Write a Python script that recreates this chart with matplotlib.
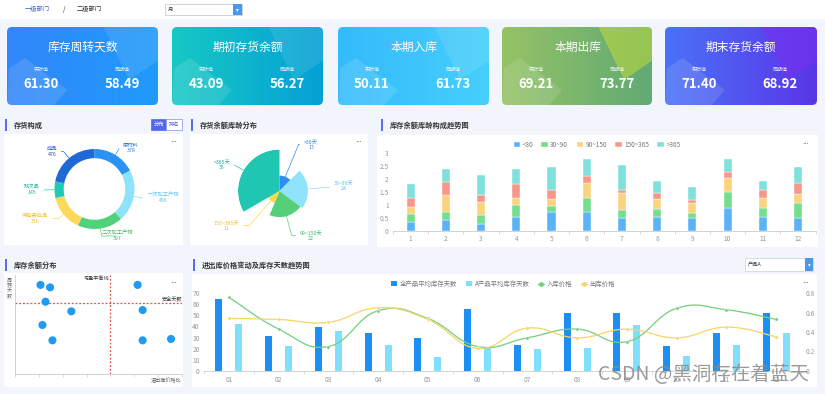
import numpy as np
import matplotlib
matplotlib.use('Agg')
import matplotlib.pyplot as plt
from matplotlib.patches import FancyBboxPatch, Rectangle, Polygon, PathPatch
from matplotlib.path import Path
from matplotlib.lines import Line2D
from matplotlib.colors import LinearSegmentedColormap

plt.rcParams['font.family'] = ['Noto Sans CJK SC', 'DejaVu Sans']

W, H = 825, 394

# ---------------- data ----------------
card_titles = ['库存周转天数', '期初存货余额', '本期入库', '本期出库', '期末存货余额']
card_actual = ['61.30', '43.09', '50.11', '69.21', '71.40']
card_prior = ['58.49', '56.27', '61.73', '73.77', '68.92']

mix_labels = ['原材料', '一次加工产物', '二次加工产物', '待包装成品', '残次品', '成品']
mix_values = [378, 456, 397, 316, 145, 476]

age_labels = ['<30天', '30~90天', '90~150天', '150~365天', '>365天']
age_values = [13, 24, 22, 11, 35]

months = list(range(1, 13))
trend_names = ['<30', '30~90', '90~150', '150~365', '>365']
trend_lt30 = [0.32, 0.41, 0.25, 0.54, 0.74, 0.74, 0.48, 0.54, 0.48, 0.87, 0.54, 0.50]
trend_30_90 = [0.34, 0.33, 0.35, 0.46, 0.23, 0.54, 0.32, 0.31, 0.22, 0.64, 0.33, 0.56]
trend_90_150 = [0.26, 0.64, 0.53, 0.27, 0.25, 0.57, 0.66, 0.38, 0.37, 0.52, 0.40, 0.35]
trend_150_365 = [0.33, 0.50, 0.25, 0.53, 0.36, 0.26, 0.12, 0.24, 0.13, 0.26, 0.32, 0.45]
trend_gt365 = [0.57, 0.50, 0.78, 0.58, 0.87, 0.67, 0.96, 0.47, 0.48, 0.48, 0.35, 0.59]

scatter_x = [1.07, 1.47, 1.28, 2.36, 1.15, 1.57, 5.14, 5.35, 5.35, 6.54]
scatter_y = [90, 87.5, 73, 63.3, 49.5, 34, 90, 64.6, 34, 35.4]
balance_line = 4
safe_days = 71.4

periods = ['01', '02', '03', '04', '05', '06', '07', '08', '09', '10', '11', '12']
all_days = [65, 31.5, 39.5, 34.5, 29.5, 55.5, 23.2, 52.5, 52.5, 22.3, 34.4, 52.5]
a_days = [42.2, 22.3, 35.6, 23.5, 12.7, 20.5, 19.9, 20.5, 41.6, 13.3, 23.5, 34.4]
in_price = [0.76, 0.43, 0.25, 0.62, 0.54, 0.25, 0.34, 0.43, 0.30, 0.645, 0.63, 0.53]
out_price = [0.54, 0.53, 0.50, 0.65, 0.53, 0.23, 0.44, 0.34, 0.43, 0.34, 0.45, 0.35]

# ---------------- figure ----------------
fig = plt.figure(figsize=(W / 100, H / 100), dpi=100, facecolor='#f2f6fc')
bg = fig.add_axes([0, 0, 1, 1])
bg.set_xlim(0, W)
bg.set_ylim(H, 0)
bg.axis('off')


def px_axes(x0, y0, x1, y1, **kw):
    ax = fig.add_axes([x0 / W, 1 - y1 / H, (x1 - x0) / W, (y1 - y0) / H], **kw)
    ax.set_facecolor('none')
    return ax


def smooth_path(xs, ys, t=0.22):
    xs = np.asarray(xs, float)
    ys = np.asarray(ys, float)
    n = len(xs)
    verts = [(xs[0], ys[0])]
    codes = [Path.MOVETO]
    for i in range(n - 1):
        a = max(i - 1, 0)
        b = min(i + 2, n - 1)
        c1 = (xs[i] + (xs[i + 1] - xs[a]) * t, ys[i] + (ys[i + 1] - ys[a]) * t)
        c2 = (xs[i + 1] - (xs[b] - xs[i]) * t, ys[i + 1] - (ys[b] - ys[i]) * t)
        verts += [c1, c2, (xs[i + 1], ys[i + 1])]
        codes += [Path.CURVE4] * 3
    return Path(verts, codes)


GRAY = '#999999'
TITLE_BAR = '#5b6cf2'

# top bar
bg.add_patch(Rectangle((0, 0), W, 19, fc='white', ec='none'))
bg.text(37, 9.5, '一级部门', fontsize=4.5, color='#3a62c4', ha='center', va='center')
bg.text(64, 9.5, '/', fontsize=4.5, color='#333', ha='center', va='center')
bg.text(89, 9.5, '二级部门', fontsize=4.5, color='#222', ha='center', va='center')
bg.add_patch(Rectangle((165, 4), 77, 11, fc='white', ec='#b8c4d8', lw=0.5))
bg.add_patch(Rectangle((233, 4), 9, 11, fc='#4a9ae8', ec='none'))
bg.text(237.5, 9.5, '▾', fontsize=4, color='white', ha='center', va='center', family='DejaVu Sans')
bg.text(168, 9.5, '月', fontsize=3.8, color='#333', va='center')

# ---------------- cards ----------------
card_boxes = [(7, 158), (172, 323), (338, 489), (502, 652), (665, 817)]
card_colors = [('#3286f9', '#1f9bfb'), ('#16c8c4', '#05a0d6'), ('#34bbfc', '#46cffb'),
               ('#96c266', '#60aa74'), ('#4a72f8', '#5a36e6')]
card_accent = ['white', 'white', 'white', '#c2dc3c', '#7a30f2']
cy0, cy1 = 27, 105
for i, (x0, x1) in enumerate(card_boxes):
    cmap = LinearSegmentedColormap.from_list('card%d' % i, card_colors[i])
    clip = FancyBboxPatch((x0, cy0), x1 - x0, cy1 - cy0,
                          boxstyle='round,pad=0,rounding_size=5', fc='none', ec='none')
    bg.add_patch(clip)
    grad = np.linspace(0, 1, 128)[None, :]
    im = bg.imshow(grad, cmap=cmap, extent=(x0, x1, cy1, cy0), aspect='auto', zorder=1)
    im.set_clip_path(clip)
    p1 = Polygon([(x0 + 2, 68), (x0 + 18, 58), (x0 + 60, 90), (x0 + 46, 106), (x0, 106)],
                 fc='white', alpha=0.12, ec='none', zorder=2)
    bg.add_patch(p1)
    p1.set_clip_path(clip)
    acc_alpha = 0.1 if card_accent[i] == 'white' else 0.55
    p2 = Polygon([(x0 + 96, 26), (x1 + 1, 26), (x1 + 1, 60), (x0 + 122, 80)],
                 fc=card_accent[i], alpha=acc_alpha, ec='none', zorder=2)
    bg.add_patch(p2)
    p2.set_clip_path(clip)
    cx = x0 + 76
    bg.text(cx, 47, card_titles[i], fontsize=8.5, color='white', ha='center', va='center', zorder=3)
    bg.text(x0 + 34, 69.5, '实际值', fontsize=3.6, color='white', alpha=0.85, ha='center', va='center', zorder=3)
    bg.text(x0 + 115, 69.5, '同期值', fontsize=3.6, color='white', alpha=0.85, ha='center', va='center', zorder=3)
    bg.text(x0 + 34, 84, card_actual[i], fontsize=9.5, fontweight='bold', color='white',
            ha='center', va='center', zorder=3)
    bg.text(x0 + 115, 84, card_prior[i], fontsize=9.5, fontweight='bold', color='white',
            ha='center', va='center', zorder=3)

# ---------------- panels ----------------
panels = [(4, 134, 183, 245), (190, 134, 368, 245), (377, 135, 818, 247),
          (4, 273, 183, 387), (192, 274, 817, 387)]
for (x0, y0, x1, y1) in panels:
    bg.add_patch(Rectangle((x0, y0), x1 - x0, y1 - y0, fc='white', ec='none'))

titles = [(5, 125, '存货构成'), (191, 125, '存货余额库龄分布'), (381, 125, '库存余额库龄构成趋势图'),
          (5, 265, '库存余额分布'), (193, 265, '进出库价格变动及库存天数趋势图')]
for (x, y, t) in titles:
    bg.add_patch(Rectangle((x, y - 6), 2, 12, fc=TITLE_BAR, ec='none'))
    bg.text(x + 9, y, t, fontsize=5.2, fontweight='bold', color='#333', va='center')

for (x, y) in [(174, 142), (359, 142), (806, 144), (174, 283), (806, 283)]:
    bg.text(x, y, '···', fontsize=5, color='#555', ha='center', va='center', family='DejaVu Sans')

# toggle buttons
bg.add_patch(Rectangle((151, 119), 15, 11, fc='#5566ee', ec='#5566ee', lw=0.5))
bg.add_patch(Rectangle((166, 119), 15.5, 11, fc='white', ec='#8090e8', lw=0.5))
bg.text(158.5, 124.5, '分布', fontsize=3.8, color='white', ha='center', va='center')
bg.text(173.7, 124.5, '排名', fontsize=3.8, color='#4455dd', ha='center', va='center')

# product dropdown
bg.add_patch(Rectangle((745, 258), 68, 13, fc='white', ec='#c8d0e0', lw=0.5))
bg.add_patch(Rectangle((805, 258), 8, 13, fc='#4a9ae8', ec='none'))
bg.text(809, 264.5, '▾', fontsize=4, color='white', ha='center', va='center', family='DejaVu Sans')
bg.text(748, 264.5, '产品A', fontsize=3.8, color='#333', va='center')

# ---------------- donut ----------------
mix_colors = ['#2a92f2', '#8ee2fb', '#4fd27a', '#fcd95a', '#22c9b4', '#1f68d8']
mix_text = ['#2a7ae0', '#5cc2ee', '#3cb866', '#efc02e', '#1fb3a0', '#2a58c4']
axp = px_axes(54.5, 149, 134.5, 229)
axp.pie(mix_values, colors=mix_colors, startangle=90, counterclock=False, radius=1,
        wedgeprops=dict(width=0.23, edgecolor='none'))
axp.set_xlim(-1, 1)
axp.set_ylim(-1, 1)
mix_pos = [(131, 148), (163, 198), (117, 236), (35, 218.5), (32, 190), (52, 151.5)]
total = float(sum(mix_values))
cum = 0.0
for i, v in enumerate(mix_values):
    mid = 90 - 360 * (cum + v / 2) / total
    cum += v
    r = np.radians(mid)
    bg.annotate('%s\n%d' % (mix_labels[i], v), xy=(np.cos(r) * 1.01, np.sin(r) * 1.01),
                xycoords=axp.transData, xytext=mix_pos[i], textcoords=bg.transData,
                fontsize=3.8, color=mix_text[i], ha='center', va='center', linespacing=1.15,
                arrowprops=dict(arrowstyle='-', color=mix_colors[i], lw=0.5, shrinkA=1, shrinkB=0,
                                connectionstyle='angle,angleA=0,angleB=%.1f,rad=0' % mid))

# ---------------- rose ----------------
age_colors = ['#2b8ef2', '#8fe3fb', '#55d078', '#fbd84e', '#1fc6b2']
age_text = ['#3a86e6', '#5cc0ea', '#3cb866', '#efc02e', '#1fb3a0']
axr = px_axes(238, 149.5, 321, 232.5, projection='polar')
axr.set_theta_zero_location('N')
axr.set_theta_direction(-1)
tot = float(sum(age_values))
widths = [2 * np.pi * v / tot for v in age_values]
starts = np.concatenate([[0], np.cumsum(widths)[:-1]])
axr.bar(starts, age_values, width=widths, bottom=0, align='edge', color=age_colors, edgecolor='none')
axr.set_ylim(0, max(age_values))
axr.axis('off')
age_pos = [(311, 144.5), (344, 186), (311, 235.5), (226.5, 225.5), (222, 165)]
for i, v in enumerate(age_values):
    th = starts[i] + widths[i] / 2
    ang = 90 - np.degrees(th)
    bg.annotate('%s\n%d' % (age_labels[i], v), xy=(th, v * 1.0), xycoords=axr.transData,
                xytext=age_pos[i], textcoords=bg.transData, fontsize=3.8, color=age_text[i],
                ha='center', va='center', linespacing=1.15,
                arrowprops=dict(arrowstyle='-', color=age_colors[i], lw=0.5, shrinkA=1, shrinkB=0,
                                connectionstyle='angle,angleA=0,angleB=%.1f,rad=0' % ang))

# ---------------- stacked bars ----------------
trend_series = [trend_lt30, trend_30_90, trend_90_150, trend_150_365, trend_gt365]
trend_colors = ['#5ab2f7', '#72de8e', '#fbd27e', '#f7968a', '#80e0dc']
axb = px_axes(393, 153.3, 815.6, 230.7)
bottom = np.zeros(len(months))
handles = []
for s, c, name in zip(trend_series, trend_colors, trend_names):
    h = axb.bar(months, s, bottom=bottom, width=0.23, color=c, edgecolor='white', lw=0.3, label=name)
    handles.append(h)
    bottom += np.array(s)
axb.set_xlim(0.5, 12.5)
axb.set_ylim(0, 3)
axb.set_yticks([0, 0.5, 1, 1.5, 2, 2.5, 3])
axb.set_yticklabels(['0', '0.5', '1', '1.5', '2', '2.5', '3'])
axb.set_xticks(months)
axb.set_xticks(np.arange(0.5, 13, 1), minor=True)
axb.tick_params(axis='x', which='major', length=0, labelsize=4.8, labelcolor=GRAY, pad=3)
axb.tick_params(axis='x', which='minor', length=2.5, color='#cccccc', width=0.5)
axb.tick_params(axis='y', length=0, labelsize=4.8, labelcolor=GRAY, pad=3)
for sp in ['top', 'right', 'left']:
    axb.spines[sp].set_visible(False)
axb.spines['bottom'].set_color('#cccccc')
axb.spines['bottom'].set_linewidth(0.6)
axb.legend(handles=handles, ncol=5, loc='center', bbox_to_anchor=(597 / W, 1 - 145 / H),
           bbox_transform=fig.transFigure, frameon=False, fontsize=4.6, labelcolor='#777',
           handlelength=1.0, handleheight=0.9, handletextpad=0.4, columnspacing=1.3)

# ---------------- scatter ----------------
axs = px_axes(15, 275, 182, 374)
axs.scatter(scatter_x, scatter_y, s=34, color='#1f9bf4', edgecolor='none', zorder=3)
axs.axvline(balance_line, color='#e8504a', lw=0.9, ls=(0, (1.5, 1.5)))
axs.axhline(safe_days, color='#e8504a', lw=0.9, ls=(0, (1.5, 1.5)))
axs.set_xlim(0, 7)
axs.set_ylim(0, 100)
axs.set_xticks(range(8))
axs.set_xticklabels([])
axs.set_yticks([])
axs.tick_params(axis='x', length=2, color='#cccccc', width=0.5)
for sp in ['top', 'right']:
    axs.spines[sp].set_visible(False)
for sp in ['left', 'bottom']:
    axs.spines[sp].set_color('#cccccc')
    axs.spines[sp].set_linewidth(0.6)
bg.text(109, 278, '亏盈平衡线', fontsize=3.7, color='#333', ha='right', va='center')
bg.text(182, 300, '安全天数', fontsize=3.7, color='#333', ha='right', va='center')
bg.text(182, 380, '进出库价格比', fontsize=3.7, color='#666', ha='right', va='center')
bg.text(9.5, 288, '周\n转\n天\n数', fontsize=3.6, color='#666', ha='center', va='center', linespacing=1.05)

# ---------------- combo chart ----------------
axc = px_axes(204, 293.3, 801, 370.7)
x = np.arange(len(periods))
axc.bar(x - 0.2, all_days, width=0.14, color='#1e8ff2', edgecolor='none')
axc.bar(x + 0.2, a_days, width=0.14, color='#80dffc', edgecolor='none')
axc.set_xlim(-0.5, len(periods) - 0.5)
axc.set_ylim(0, 70)
axc.set_yticks(range(0, 71, 10))
axc.set_xticks(x)
axc.set_xticklabels(periods)
axc.set_xticks(np.arange(-0.5, len(periods), 1), minor=True)
axc.tick_params(axis='x', which='major', length=0, labelsize=4.8, labelcolor=GRAY, pad=4)
axc.tick_params(axis='x', which='minor', length=2.5, color='#cccccc', width=0.5)
axc.tick_params(axis='y', length=0, labelsize=4.8, labelcolor=GRAY, pad=3)
for sp in ['top', 'right', 'left']:
    axc.spines[sp].set_visible(False)
axc.spines['bottom'].set_color('#cccccc')
axc.spines['bottom'].set_linewidth(0.6)

axc2 = axc.twinx()
axc2.set_ylim(0, 0.8)
axc2.set_yticks([0, 0.2, 0.4, 0.6, 0.8])
axc2.set_yticklabels(['0', '0.2', '0.4', '0.6', '0.8'])
axc2.tick_params(axis='y', length=0, labelsize=4.8, labelcolor=GRAY, pad=3)
for sp in axc2.spines.values():
    sp.set_visible(False)
for vals, c in [(in_price, '#72cf7c'), (out_price, '#f5d468')]:
    axc2.add_patch(PathPatch(smooth_path(x, vals), fill=False, ec=c, lw=0.9))
    axc2.plot(x, vals, 'o', ms=2.4, color=c, mec='white', mew=0.3)

leg_handles = [Rectangle((0, 0), 1, 1, fc='#1e8ff2'), Rectangle((0, 0), 1, 1, fc='#80dffc'),
               Line2D([0], [0], color='#72cf7c', lw=0.9, marker='o', ms=2.4),
               Line2D([0], [0], color='#f5d468', lw=0.9, marker='o', ms=2.4)]
axc2.legend(leg_handles, ['全产品平均库存天数', 'A产品平均库存天数', '入库价格', '出库价格'],
            ncol=4, loc='center', bbox_to_anchor=(503 / W, 1 - 284 / H), bbox_transform=fig.transFigure,
            frameon=False, fontsize=4.6, labelcolor='#777', handlelength=1.0, handleheight=0.9,
            handletextpad=0.4, columnspacing=1.3)

# watermark on top of everything
wm = fig.add_axes([0, 0, 1, 1], zorder=20)
wm.axis('off')
wm.set_xlim(0, W)
wm.set_ylim(H, 0)
wm.text(703, 374, 'CSDN @黑洞存在着蓝天', fontsize=14, color='#8a8a8a', alpha=0.85,
        ha='center', va='center')

fig.savefig('out.png', dpi=100, facecolor=fig.get_facecolor())
